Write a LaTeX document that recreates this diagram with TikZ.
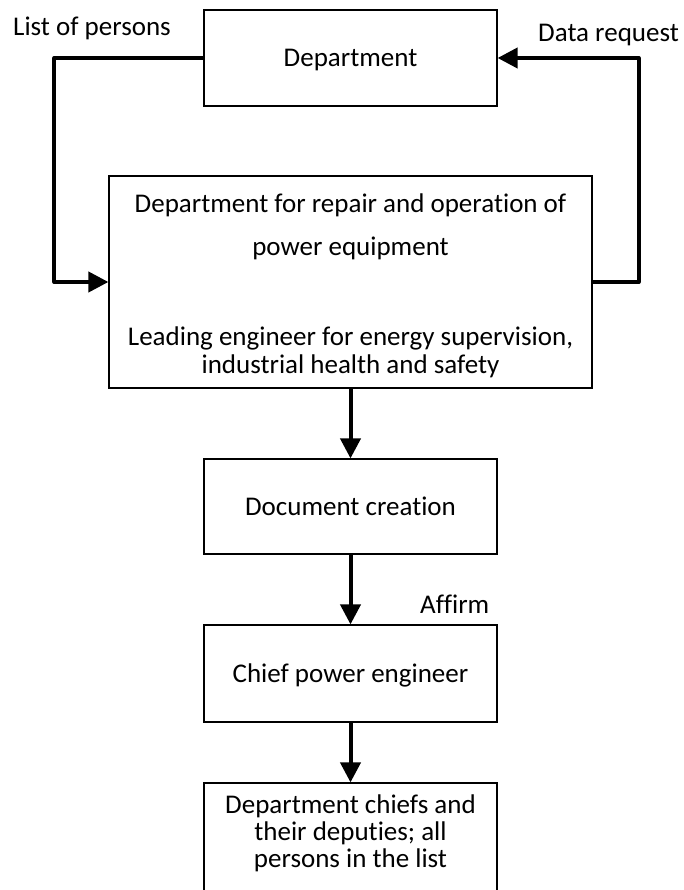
\documentclass[tikz,border=0pt]{standalone}
\usepackage{fontspec}
\setmainfont{Carlito}[Ligatures=NoCommon]
\usetikzlibrary{arrows.meta}
\begin{document}
\begin{tikzpicture}[x=1pt,y=-1pt,
  box/.style={draw, line width=1.2pt, inner sep=0pt},
  txt/.style={anchor=base, inner sep=0pt, font=\fontsize{27}{30}\selectfont},
  flow/.style={line width=4pt, line join=round,
    -{Triangle[length=20pt,width=20pt]}}]
\useasboundingbox (0,0) rectangle (683,890);

% boxes
\node[box, minimum width=293pt, minimum height=96pt]  (dept)  at (350.5,58)    {};
\node[box, minimum width=483pt, minimum height=212pt] (repair) at (350.5,282)  {};
\node[box, minimum width=293pt, minimum height=95pt]  (doc)   at (350.5,506.5) {};
\node[box, minimum width=293pt, minimum height=97pt]  (chief) at (350.5,673.5) {};
\node[box, minimum width=293pt, minimum height=130pt] (staff) at (350.5,848)   {};

% box texts
\node[txt] (deptT) at (350.5,67) {Department};
\node[txt] (repT1) at (350.5,213) {Department for repair and operation of};
\node[txt] (repT2) at (350.5,255) {power equipment};
\node[txt] (repT3) at (350.5,345) {Leading engineer for energy supervision,};
\node[txt] (repT4) at (350.5,373) {industrial health and safety};
\node[txt] (docT)  at (350.5,515) {Document creation};
\node[txt] (chiefT) at (350.5,682) {Chief power engineer};
\node[txt] (staffT1) at (350.5,813) {Department chiefs and};
\node[txt] (staffT2) at (350.5,840) {their deputies; all};
\node[txt] (staffT3) at (350.5,867) {persons in the list};

% connector labels
\node[txt, anchor=base west] (lblList) at (13,36)  {List of persons};
\node[txt, anchor=base west] (lblReq)  at (538,42) {Data request};
\node[txt, anchor=base west] (lblAff)  at (420,613) {Affirm};

% connectors
\draw[flow] (dept.west) -- ++(-149,0) |- (repair.west);
\draw[flow] (repair.east) -- ++(46,0) |- (dept.east);
\draw[flow] (repair.south) -- (doc.north);
\draw[flow] (doc.south) -- (chief.north);
\draw[flow] (chief.south) -- (staff.north);
\end{tikzpicture}
\end{document}
